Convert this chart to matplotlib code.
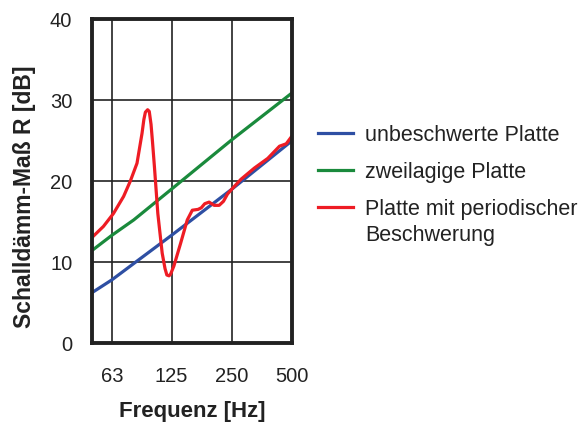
#!/usr/bin/env python3
import matplotlib
matplotlib.use("Agg")
import matplotlib.pyplot as plt

# blue: unbeschwerte Platte
freq_blue = [50, 63, 125, 250, 500]
r_blue = [6.2, 7.8, 13.3, 19.0, 25.0]

# green: zweilagige Platte
freq_green = [50, 63, 81, 125, 250, 500]
r_green = [11.4, 13.3, 15.2, 19.0, 25.1, 30.9]

# red: Platte mit periodischer Beschwerung
freq_red = [50, 57.2, 64.2, 72.1, 77.9, 84.1, 89.1, 91.0, 92.6, 95.0, 96.8,
            98.8, 100.5, 102.7, 106.8, 112.3, 116.0, 118.5, 121.5, 123.6,
            128.4, 138.7, 149.8, 158.7, 169.5, 176, 183, 192.4, 204, 216,
            227, 237.8, 252, 277, 323.6, 377.6, 432, 466.6, 500]
r_red = [13.0, 14.4, 16.0, 18.1, 20.0, 22.2, 25.9, 27.6, 28.5, 28.8, 28.6,
         27.0, 24.8, 21.8, 16.0, 11.1, 9.2, 8.4, 8.3, 8.5,
         9.5, 12.3, 15.2, 16.4, 16.5, 16.7, 17.2, 17.4, 17.0, 17.0,
         17.5, 18.4, 19.1, 20.2, 21.6, 22.8, 24.3, 24.6, 25.6]

x_ticks = [63, 125, 250, 500]
y_ticks = [0, 10, 20, 30, 40]
labels = ["unbeschwerte Platte", "zweilagige Platte", "Platte mit periodischer"]
label_extra = "Beschwerung"

plt.rcParams['font.family'] = ['Liberation Sans', 'DejaVu Sans']

fig = plt.figure(figsize=(5.88, 4.23), dpi=100)
ax = fig.add_axes([0.156, 0.189, 0.341, 0.766])

ax.plot(freq_blue, r_blue, color='#2e4fa3', lw=2.3, label=labels[0])
ax.plot(freq_green, r_green, color='#1a8a3c', lw=2.3, label=labels[1])
ax.plot(freq_red, r_red, color='#ee1c24', lw=2.3, label=labels[2])

ax.set_xscale('log')
ax.set_xlim(50, 500)
ax.set_ylim(0, 40)
ax.set_xticks(x_ticks)
ax.set_xticklabels([str(t) for t in x_ticks])
ax.minorticks_off()
ax.set_yticks(y_ticks)
ax.tick_params(axis='both', length=0, labelsize=14.5, colors='#222222')
ax.tick_params(axis='x', pad=17)
ax.tick_params(axis='y', pad=14)
ax.grid(True, color='#222222', lw=1.2)
for s in ax.spines.values():
    s.set_linewidth(2.8)
    s.set_color('#222222')

ax.set_xlabel('Frequenz [Hz]', fontsize=16, fontweight='bold', color='#222222', labelpad=11)
ax.set_ylabel('Schalldämm-Maß R [dB]', fontsize=16.5, fontweight='bold', color='#222222')
ax.yaxis.set_label_coords(-0.28, 0.45)

ax.legend(loc='upper left', bbox_to_anchor=(0.541, 0.705), bbox_transform=fig.transFigure,
          frameon=False, fontsize=15.5, handlelength=1.6, handletextpad=0.6,
          labelspacing=0.74, borderaxespad=0, borderpad=0, labelcolor='#222222')
fig.text(365 / 588, 1 - 235 / 423, label_extra, fontsize=15.5, color='#222222',
         ha='left', va='center')

fig.savefig('out.png', dpi=100)
